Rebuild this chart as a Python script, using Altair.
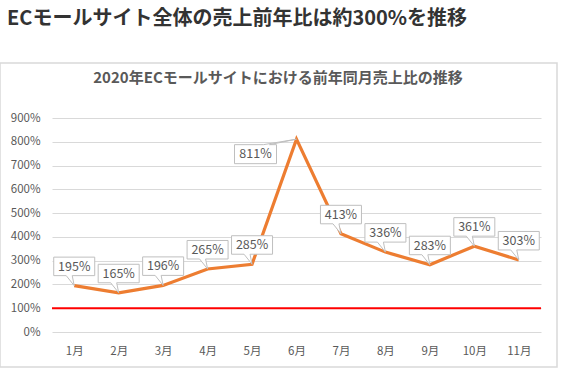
import altair as alt
import pandas as pd

months = ["1月", "2月", "3月", "4月", "5月", "6月", "7月", "8月", "9月", "10月", "11月"]
values = [195, 165, 196, 265, 285, 811, 413, 336, 283, 361, 303]
baseline = [100]
y_ticks = [0, 100, 200, 300, 400, 500, 600, 700, 800, 900]
heading = "ECモールサイト全体の売上前年比は約300%を推移"
chart_title = "2020年ECモールサイトにおける前年同月売上比の推移"

FONT = "Noto Sans CJK JP"
W, H = 489, 214

df = pd.DataFrame({"month": months, "value": values})
df["label"] = [f"{v}%" for v in values]
base_df = pd.DataFrame({"value": baseline})
one = pd.DataFrame({"a": [0]})

x_scale = alt.Scale(type="point", padding=0.5)
y_scale = alt.Scale(domain=[0, 900], nice=False)

x_axis = alt.Axis(title=None, labelAngle=0, domain=False, ticks=False,
                  labelPadding=13, labelFont=FONT, labelFontSize=11.5,
                  labelColor="#595959", grid=False)
y_axis = alt.Axis(title=None, values=y_ticks, labelExpr="datum.value + '%'",
                  domain=False, ticks=False, labelPadding=12, labelFont=FONT,
                  labelFontSize=11.5, labelColor="#595959", grid=True,
                  gridColor="#d9d9d9", gridWidth=1, labelOverlap=False)
x_enc = alt.X("month:O", sort=months, scale=x_scale, axis=x_axis)
y_enc = alt.Y("value:Q", scale=y_scale, axis=y_axis)

frame = alt.Chart(one).mark_rect(fill="white", fillOpacity=0, stroke="#d9d9d9", strokeWidth=1.5).encode(
    x=alt.value(-52), x2=alt.value(505), y=alt.value(-55), y2=alt.value(249))

head = alt.Chart(one).mark_text(align="left", baseline="alphabetic", font=FONT, fontSize=20,
                                fontWeight="bold", color="#333333").encode(
    x=alt.value(-45), y=alt.value(-93), text=alt.value(heading))

inner_title = alt.Chart(one).mark_text(align="center", baseline="alphabetic", font=FONT, fontSize=15,
                                       fontWeight="bold", color="#595959").encode(
    x=alt.value(226), y=alt.value(-35), text=alt.value(chart_title))

red = alt.Chart(base_df).mark_rule(color="#ff0000", strokeWidth=2).encode(y=y_enc)

line = alt.Chart(df).mark_line(color="#ed7d31", strokeWidth=3.2).encode(x=x_enc, y=y_enc)

path_up = "M -20.5 -28.5 H 20.5 V -10 H -2 L 0 0 L -8 -10 H -20.5 Z"
path_left = "M -62 5.5 H -33 L 0 0 L -27 5.5 H -20 V 24.5 H -62 Z"

bubbles = alt.Chart(df).mark_point(filled=True, fill="white", stroke="#bfbfbf", strokeWidth=1,
                                   opacity=1, size=4).encode(
    x=x_enc, y=y_enc,
    shape=alt.condition(alt.datum.value > 800, alt.value(path_left), alt.value(path_up)))

txt_common = dict(font=FONT, fontSize=12.5, color="#595959", baseline="middle", align="center")
labels_up = alt.Chart(df).transform_filter(alt.datum.value <= 800).mark_text(dy=-19, **txt_common).encode(
    x=x_enc, y=y_enc, text="label:N")
labels_left = alt.Chart(df).transform_filter(alt.datum.value > 800).mark_text(dx=-41, dy=15, **txt_common).encode(
    x=x_enc, y=y_enc, text="label:N")

chart = alt.layer(frame, head, inner_title, red, line,
                  bubbles, labels_up, labels_left).properties(
    width=W, height=H,
    autosize=alt.AutoSizeParams(type="none"),
    padding={"left": 52, "top": 118, "right": 25, "bottom": 56},
    background="white",
).configure_view(strokeWidth=0)

chart.save("out.html", embed_options={"renderer": "svg", "actions": False})
